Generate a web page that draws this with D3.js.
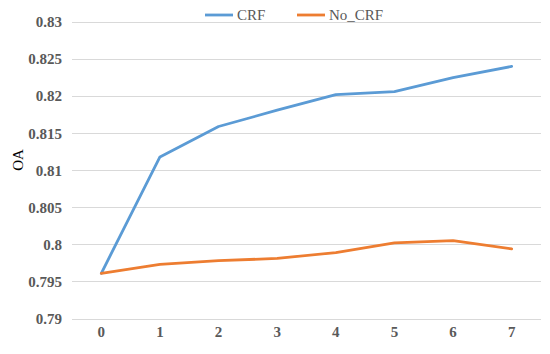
<!DOCTYPE html>
<html>
<head>
<meta charset="utf-8">
<script src="https://cdn.jsdelivr.net/npm/d3@7"></script>
<style>
body { margin: 0; background: #fff; }
svg text { font-family: "Liberation Serif", "Times New Roman", serif; }
</style>
</head>
<body>
<div id="chart"></div>
<script>
// data
var steps = [0, 1, 2, 3, 4, 5, 6, 7];
var crf = [0.7961, 0.8118, 0.8159, 0.8181, 0.8202, 0.8206, 0.8225, 0.8240];
var noCrf = [0.7961, 0.7973, 0.7978, 0.7981, 0.7989, 0.8002, 0.8005, 0.7994];
var yTicks = [0.79, 0.795, 0.8, 0.805, 0.81, 0.815, 0.82, 0.825, 0.83];
var seriesNames = ["CRF", "No_CRF"];
var colors = ["#5b9bd5", "#ed7d31"];

var w = 550, h = 354;
var plotLeft = 72, plotRight = 541, plotTop = 22, plotBottom = 318.5;

var svg = d3.select("#chart").append("svg")
  .attr("width", w)
  .attr("height", h);

var x = d3.scaleBand().domain(steps).range([plotLeft, plotRight]);
var y = d3.scaleLinear().domain([0.79, 0.83]).range([plotBottom, plotTop]);

// gridlines
svg.append("g")
  .selectAll("line")
  .data(yTicks)
  .enter().append("line")
  .attr("x1", plotLeft)
  .attr("x2", plotRight)
  .attr("y1", function(d) { return Math.round(y(d)) + 0.5; })
  .attr("y2", function(d) { return Math.round(y(d)) + 0.5; })
  .attr("stroke", "#d9d9d9")
  .attr("stroke-width", 1);

// y axis labels
var yAxis = svg.append("g")
  .attr("transform", "translate(" + (plotLeft - 10) + ",0)")
  .call(d3.axisLeft(y).tickValues(yTicks).tickSize(0).tickPadding(0)
    .tickFormat(function(d) { return String(+d.toFixed(3)); }));
yAxis.select(".domain").remove();
yAxis.selectAll(".tick text")
  .style("font-family", "'Liberation Serif', 'Times New Roman', serif")
  .style("font-weight", "bold")
  .style("font-size", "15px")
  .attr("fill", "#595959");

// x axis labels
var xAxis = svg.append("g")
  .attr("transform", "translate(0," + (plotBottom + 8) + ")")
  .call(d3.axisBottom(x).tickSize(0).tickPadding(0));
xAxis.select(".domain").remove();
xAxis.selectAll(".tick text")
  .style("font-family", "'Liberation Serif', 'Times New Roman', serif")
  .style("font-weight", "bold")
  .style("font-size", "15px")
  .attr("fill", "#595959");

// y axis title
svg.append("text")
  .attr("transform", "translate(23,160) rotate(-90)")
  .attr("text-anchor", "middle")
  .style("font-size", "15px")
  .attr("fill", "#000")
  .text("OA");

// lines
var line = d3.line()
  .x(function(d, i) { return x(steps[i]) + x.bandwidth() / 2; })
  .y(function(d) { return y(d); });

[crf, noCrf].forEach(function(s, i) {
  svg.append("path")
    .datum(s)
    .attr("fill", "none")
    .attr("stroke", colors[i])
    .attr("stroke-width", 2.8)
    .attr("stroke-linejoin", "round")
    .attr("stroke-linecap", "round")
    .attr("d", line);
});

// legend
var legendX = [205, 297];
var legend = svg.append("g")
  .selectAll("g")
  .data(seriesNames)
  .enter().append("g")
  .attr("transform", function(d, i) { return "translate(" + legendX[i] + ",15)"; });
legend.append("line")
  .attr("x1", 0).attr("x2", 28)
  .attr("stroke", function(d, i) { return colors[i]; })
  .attr("stroke-width", 2.8);
legend.append("text")
  .attr("x", 32)
  .attr("dy", "0.35em")
  .style("font-size", "15px")
  .attr("fill", "#595959")
  .text(function(d) { return d; });
</script>
</body>
</html>
